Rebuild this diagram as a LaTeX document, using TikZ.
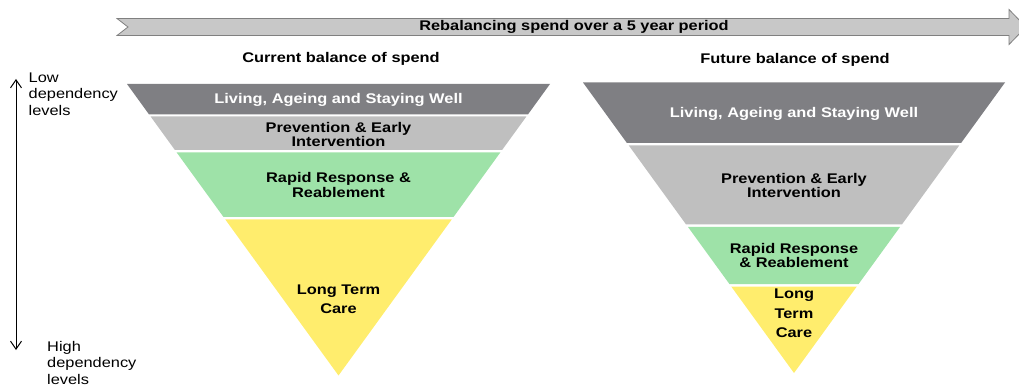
\documentclass[tikz,border=0pt]{standalone}
\usepackage{fontspec}
\setmainfont{Liberation Sans}[FakeStretch=1.17]
\usepackage{xcolor}
\usetikzlibrary{arrows.meta,positioning}

\definecolor{tierDark}{RGB}{127,127,131}
\definecolor{tierGrey}{RGB}{191,191,191}
\definecolor{tierGreen}{RGB}{158,226,168}
\definecolor{tierYellow}{RGB}{255,237,109}
\definecolor{bannerFill}{RGB}{200,200,200}
\definecolor{bannerLine}{RGB}{128,128,128}

\begin{document}
\begin{tikzpicture}[
    x=1pt, y=-1pt,
    tier/.style={font=\fontsize{14}{14}\selectfont\bfseries, align=center, inner sep=0pt},
    heading/.style={font=\fontsize{14}{16}\selectfont\bfseries, inner sep=0pt},
    side/.style={font=\fontsize{14}{16.5}\selectfont, align=left, inner sep=0pt, anchor=north west},
    >={Straight Barb[length=8pt,width=11pt]}
]
\useasboundingbox (0,0) rectangle (1019,387);

% banner arrow
\filldraw[fill=bannerFill, draw=bannerLine, line width=0.8pt]
    (117,18.5) -- (1009,18.5) -- (1009,9.5) -- (1026,27) -- (1009,44.5)
    -- (1009,35.5) -- (117,35.5) -- (128,27) -- cycle;
\node[heading] (banner) at (574,27) {Rebalancing spend over a 5 year period};

% headings
\node[heading] (curTitle) at (341,58.5) {Current balance of spend};
\node[heading] (futTitle) at (795,59.5) {Future balance of spend};

% current split
\fill[tierDark]   (127,84) -- (550,84) -- (527.9,114.5) -- (149.1,114.5) -- cycle;
\fill[tierGrey]   (150.6,116.5) -- (526.4,116.5) -- (502.1,150) -- (174.9,150) -- cycle;
\fill[tierGreen]  (176.7,152.5) -- (500.3,152.5) -- (453.5,217) -- (223.5,217) -- cycle;
\fill[tierYellow] (225.3,219.5) -- (451.7,219.5) -- (338.5,375.5) -- cycle;

\node[tier, text=white] (curLiving) at (338.5,100) {Living, Ageing and Staying Well};
\node[tier] (curPrev) at (338.5,134) {Prevention \& Early\\Intervention};
\node[tier, font=\fontsize{14}{15}\selectfont\bfseries] (curRapid) at (338.5,184.5) {Rapid Response \&\\Reablement};
\node[tier, font=\fontsize{14}{19}\selectfont\bfseries] (curLong) at (338.5,299) {Long Term\\Care};

% future split
\fill[tierDark]   (583,82.5) -- (1005,82.5) -- (961.1,143) -- (626.9,143) -- cycle;
\fill[tierGrey]   (628.8,145.5) -- (959.2,145.5) -- (901.9,224.5) -- (686.1,224.5) -- cycle;
\fill[tierGreen]  (688,227) -- (900,227) -- (858.6,284) -- (729.4,284) -- cycle;
\fill[tierYellow] (731.2,286.5) -- (856.8,286.5) -- (794,373) -- cycle;

\node[tier, text=white] (futLiving) at (794,114) {Living, Ageing and Staying Well};
\node[tier] (futPrev) at (794,185) {Prevention \& Early\\Intervention};
\node[tier] (futRapid) at (794,255) {Rapid Response\\\& Reablement};
\node[tier, font=\fontsize{14}{19.5}\selectfont\bfseries] (futLong) at (794,313.5) {Long\\Term\\Care};

% dependency axis
\coordinate (lowTip) at (16,79);
\coordinate (highTip) at (16,350);
\draw[<->, line width=1pt] (lowTip) -- (highTip);
\node[side] (lowLbl) at (28.5,72.5) {Low\\dependency\\levels};
\node[side] (highLbl) at (47,341) {High\\dependency\\levels};

\end{tikzpicture}
\end{document}
